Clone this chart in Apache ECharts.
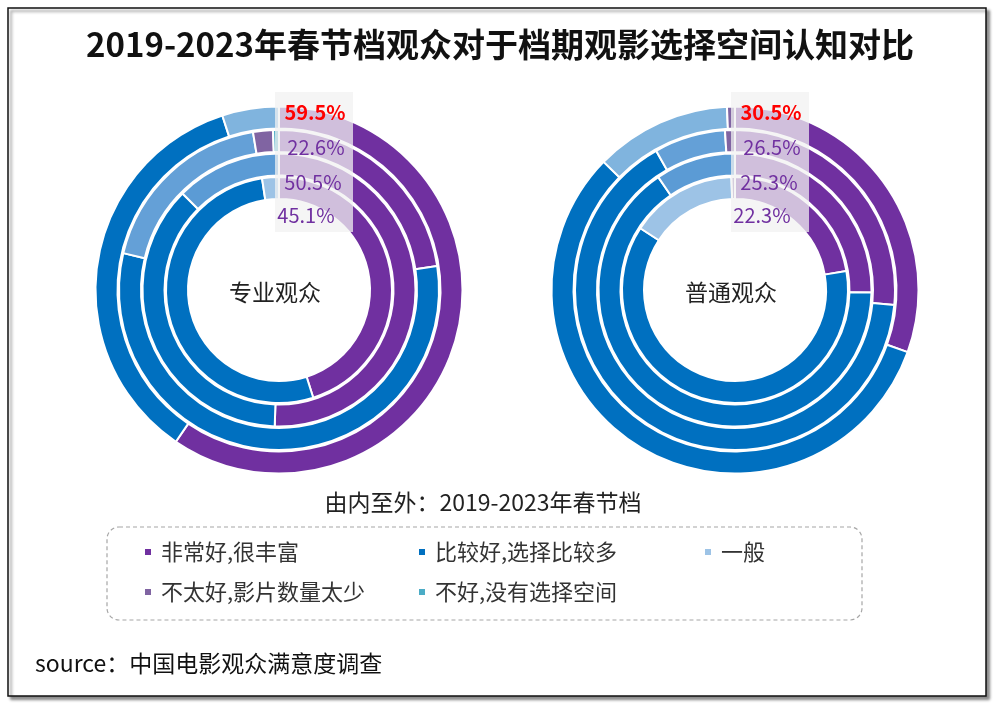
<!DOCTYPE html>
<html>
<head>
<meta charset="utf-8">
<script src="https://cdn.jsdelivr.net/npm/echarts@6/dist/echarts.min.js"></script>
<style>
  html, body { margin: 0; padding: 0; background: #fff; }
  #chart { width: 1000px; height: 707px; }
</style>
</head>
<body>
<div id="chart"></div>
<script>
// 分类（图例顺序）
var categories = ['非常好,很丰富', '比较好,选择比较多', '一般', '不太好,影片数量太少', '不好,没有选择空间'];
// 由内至外的环
var rings = ['2019', '2021', '2022', '2023'];
// 专业观众，由内至外
var proVeryGood = [45.1, 50.5, 22.6, 59.5];
var proGood     = [52.5, 37.0, 56.1, 35.5];
var proNormal   = [2.4, 12.5, 18.7, 5.0];
var proBad      = [0, 0, 2.0, 0];
var proVeryBad  = [0, 0, 0.6, 0];
// 普通观众，由内至外
var pubVeryGood = [22.3, 25.3, 26.5, 30.5];
var pubGood     = [61.9, 65.2, 65.3, 56.8];
var pubNormal   = [15.3, 9.5, 7.2, 12.0];
var pubBad      = [0.5, 0, 1.0, 0.7];
var pubVeryBad  = [0, 0, 0, 0];

var FONT = 'Noto Sans CJK SC';
var catColors = ['#7030A0', '#0070C0', '#9DC3E6', '#8064A2', '#4BACC6'];
var normalShades = ['#9DC3E6', '#5B9BD5', '#64A0D7', '#80B4DE'];

var groups = [
    { name: '专业观众', cx: 279, cy: 290, cols: [proVeryGood, proGood, proNormal, proBad, proVeryBad] },
    { name: '普通观众', cx: 735, cy: 290, cols: [pubVeryGood, pubGood, pubNormal, pubBad, pubVeryBad] }
];

var ringBase = 91, ringWidth = 22, ringStep = 23.5;
var labelDx = [27, 34, 37, 36];
var labelY  = [215, 182, 147, 112];

var chart = echarts.init(document.getElementById('chart'));

var series = [];
var graphics = [];

graphics.push({
    type: 'rect', z: -10,
    shape: { x: 8, y: 8, width: 978, height: 688 },
    style: { fill: '#fff', stroke: '#111', lineWidth: 1.5,
             shadowBlur: 3, shadowOffsetX: 3, shadowOffsetY: 3, shadowColor: 'rgba(0,0,0,0.45)' }
});

groups.forEach(function (g) {
    for (var r = 0; r < rings.length; r++) {
        var data = [];
        for (var c = 0; c < categories.length; c++) {
            data.push({
                name: categories[c],
                value: g.cols[c][r],
                itemStyle: { color: c === 2 ? normalShades[r] : catColors[c] }
            });
        }
        series.push({
            type: 'pie',
            name: g.name + rings[r],
            center: [g.cx, g.cy],
            radius: [ringBase + r * ringStep, ringBase + r * ringStep + ringWidth],
            startAngle: 90,
            clockwise: true,
            avoidLabelOverlap: false,
            silent: true,
            label: { show: false },
            labelLine: { show: false },
            itemStyle: { borderColor: '#fff', borderWidth: 2 },
            data: data
        });
    }
    // 标签底板
    graphics.push({
        type: 'rect', z: 10,
        shape: { x: g.cx - 4, y: 92, width: 78, height: 140 },
        style: { fill: 'rgba(242,242,242,0.74)' }
    });
    for (var k = 0; k < rings.length; k++) {
        var outer = k === rings.length - 1;
        graphics.push({
            type: 'text', z: 11,
            x: g.cx + labelDx[k], y: labelY[k],
            style: {
                text: g.cols[0][k].toFixed(1) + '%',
                fill: outer ? '#FF0000' : '#7030A0',
                font: (outer ? 'bold ' : '') + '20px "' + FONT + '"',
                textAlign: 'center', textVerticalAlign: 'middle'
            }
        });
    }
    graphics.push({
        type: 'text', z: 11,
        x: g.cx - 4, y: g.cy + 2,
        style: { text: g.name, fill: '#222', font: '23px "' + FONT + '"',
                 textAlign: 'center', textVerticalAlign: 'middle' }
    });
});

graphics.push({
    type: 'text', z: 11, x: 483, y: 502,
    style: { text: '由内至外：2019-2023年春节档', fill: '#222', font: '23px "' + FONT + '"',
             textAlign: 'center', textVerticalAlign: 'middle' }
});
graphics.push({
    type: 'rect', z: 5,
    shape: { x: 107, y: 527, width: 755, height: 93, r: 12 },
    style: { fill: 'none', stroke: '#A6A6A6', lineWidth: 1.2, lineDash: [4, 3] }
});
graphics.push({
    type: 'text', z: 11, x: 35, y: 663,
    style: { text: 'source：中国电影观众满意度调查', fill: '#111', font: '23px "' + FONT + '"',
             textAlign: 'left', textVerticalAlign: 'middle' }
});

function legendCol(left, names) {
    return {
        orient: 'vertical',
        left: left,
        top: 536,
        itemGap: 18,
        itemWidth: 8,
        itemHeight: 8,
        icon: 'rect',
        selectedMode: false,
        textStyle: { fontFamily: FONT, fontSize: 22, color: '#333', padding: [0, 0, 0, 4] },
        data: names
    };
}

var option = {
    animation: false,
    backgroundColor: '#fff',
    title: {
        text: '2019-2023年春节档观众对于档期观影选择空间认知对比',
        left: 'center',
        top: 23,
        textStyle: { fontFamily: FONT, fontSize: 33, fontWeight: 'bold', color: '#111' }
    },
    legend: [
        legendCol(138, [categories[0], categories[3]]),
        legendCol(412, [categories[1], categories[4]]),
        legendCol(698, [categories[2]])
    ],
    graphic: graphics,
    series: series
};

chart.setOption(option);
</script>
</body>
</html>
